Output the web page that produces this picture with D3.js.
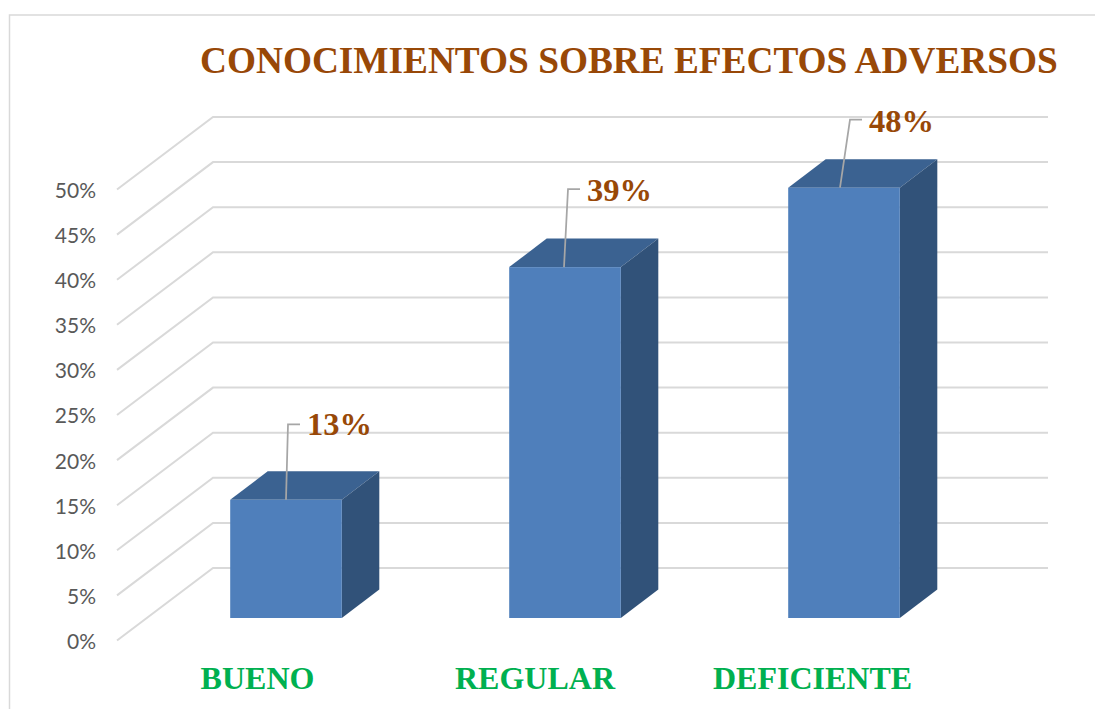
<!DOCTYPE html>
<html><head><meta charset="utf-8">
<script src="https://cdn.jsdelivr.net/npm/d3@7/dist/d3.min.js"></script>
<style>html,body{margin:0;padding:0;background:#fff;overflow:hidden}svg{display:block}</style>
</head><body><svg id="c" width="1095" height="709"></svg>
<script>
const titleText = "CONOCIMIENTOS SOBRE EFECTOS ADVERSOS";
const categories = ["BUENO","REGULAR","DEFICIENTE"];
const values = [13.1,38.9,47.7];
const valueLabels = ["13%","39%","48%"];
const ticks = [0,5,10,15,20,25,30,35,40,45,50];

const svg = d3.select("#c");
const y = d3.scaleLinear().domain([0,50]).range([640.5,189.5]);
const xBar = d3.scaleBand().domain(categories).range([146.5,983.5]).paddingInner(0.6).paddingOuter(0.3);
const xLab = d3.scalePoint().domain(categories).range([257.5,812.5]);
const depth = {dx:96, dy:-72.5, right:1048, left:117};
const bar = {sx:30, sy:-22.5, dx:37.5, dy:-28.5};
const serif = "'Liberation Serif','Times New Roman',serif";

// frame
svg.append("path").attr("d","M9.5,709V15H1095").attr("fill","none").attr("stroke","#d9d9d9").attr("stroke-width",1.5);

// title
svg.append("text").attr("x",200).attr("y",73).attr("font-family",serif).attr("font-weight","bold")
  .attr("font-size",37.3).attr("fill","#984807").text(titleText);

// walls
const g = svg.append("g").attr("fill","none").attr("stroke","#d9d9d9").attr("stroke-width",2);
g.selectAll("path").data(ticks).join("path")
  .attr("d",t=>d3.line()([[depth.left,y(t)],[depth.left+depth.dx,y(t)+depth.dy],[depth.right,y(t)+depth.dy]]));

// y axis
const ax = svg.append("g").attr("transform","translate(103,0)")
  .call(d3.axisLeft(y).tickValues(ticks).tickSize(0).tickPadding(7).tickFormat(d=>d+"%"));
ax.select(".domain").remove();
ax.selectAll("text").attr("font-family","Lato,Carlito,sans-serif").attr("font-size",21).attr("fill","#595959").attr("dy","0.38em");

// bars
const base = y(0)+bar.sy;
const bars = svg.append("g").selectAll("g").data(categories.map((c,i)=>({c,v:values[i],l:valueLabels[i]}))).join("g");
const X0 = d=>xBar(d.c), X1 = d=>xBar(d.c)+xBar.bandwidth(), T = d=>base-(y(0)-y(d.v));
bars.append("path").attr("fill","#3b6291")
  .attr("d",d=>d3.line()([[X0(d),T(d)],[X0(d)+bar.dx,T(d)+bar.dy],[X1(d)+bar.dx,T(d)+bar.dy],[X1(d),T(d)]])+"Z");
bars.append("path").attr("fill","#315279")
  .attr("d",d=>d3.line()([[X1(d),T(d)],[X1(d)+bar.dx,T(d)+bar.dy],[X1(d)+bar.dx,base+bar.dy],[X1(d),base]])+"Z");
bars.append("rect").attr("fill","#4f7fbb").attr("x",X0).attr("y",T).attr("width",xBar.bandwidth()).attr("height",d=>base-T(d));

// leaders and labels
const lead = [{bx:0,rise:75.5,lx:2,ty:11},{bx:-1,rise:78,lx:4,ty:12},{bx:-4,rise:68,lx:10,ty:12}];
bars.append("path").attr("fill","none").attr("stroke","#a6a6a6").attr("stroke-width",1.75)
  .attr("d",(d,i)=>{const mx=(X0(d)+X1(d))/2+lead[i].bx,t=T(d),u=t-lead[i].rise,k=mx+lead[i].lx;
    return d3.line()([[mx,t],[k,u],[k+12,u]]);});
bars.append("text").attr("font-family",serif).attr("font-weight","bold").attr("font-size",32.5).attr("fill","#984807")
  .attr("x",(d,i)=>(X0(d)+X1(d))/2+lead[i].bx+lead[i].lx+19)
  .attr("y",(d,i)=>T(d)-lead[i].rise+lead[i].ty).text(d=>d.l);

// categories
svg.append("g").selectAll("text").data(categories).join("text")
  .attr("x",d=>xLab(d)).attr("y",689).attr("text-anchor","middle").attr("font-family",serif)
  .attr("font-weight","bold").attr("font-size",32).attr("fill","#00b050").text(d=>d);
</script></body></html>
